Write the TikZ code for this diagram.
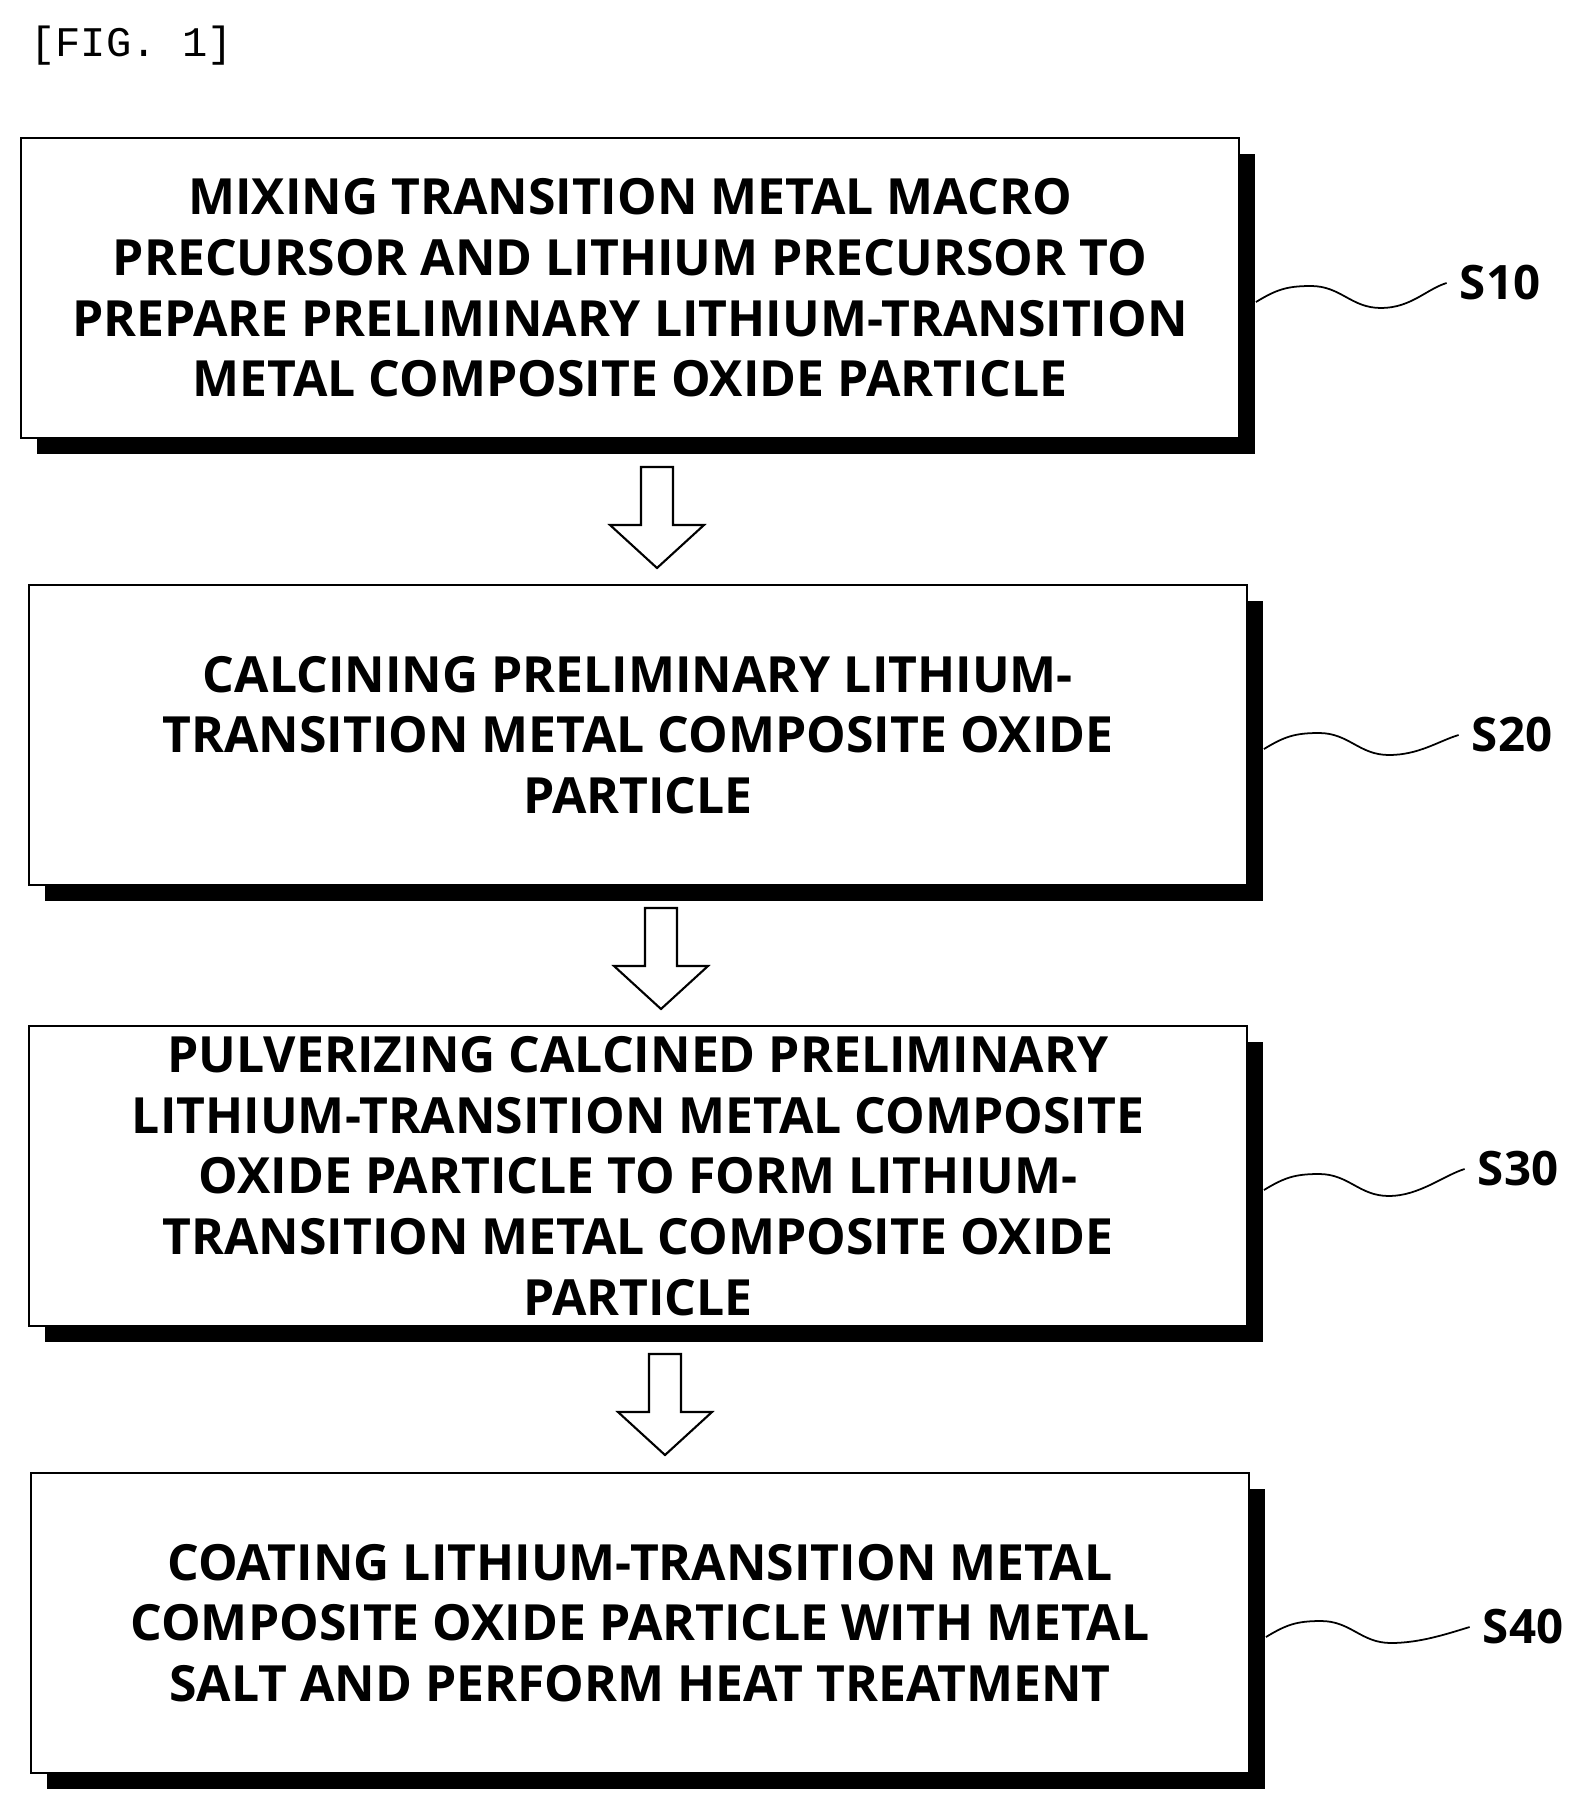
\documentclass[tikz,border=0pt]{standalone}
\usepackage{fontspec}
\setmainfont{Open Sans}
\setmonofont{Liberation Mono}
\usetikzlibrary{shadows}
\tikzset{
  stepbox/.style={draw, line width=1.2pt, fill=white, minimum width=24.36cm, minimum height=6cm,
    align=center, font=\bfseries\fontsize{28.4}{34.5}\selectfont, inner sep=0pt,
    drop shadow={shadow xshift=0.32cm, shadow yshift=-0.32cm, fill=black, opacity=1}},
  steplabel/.style={font=\bfseries\fontsize{27}{32}\selectfont},
  flowarrow/.style={draw, line width=1.2pt, fill=white}
}
\begin{document}
\begin{tikzpicture}[x=0.02cm, y=-0.02cm]
    \useasboundingbox (0, 0) rectangle (1592, 1815);
    \node[anchor=north west, font=\ttfamily\fontsize{24}{24}\selectfont] (fig) at (24, 20) {[FIG. 1]};

    % process steps
    \node[stepbox] (s10) at (630, 288) {MIXING TRANSITION METAL MACRO\\PRECURSOR AND LITHIUM PRECURSOR TO\\PREPARE PRELIMINARY LITHIUM-TRANSITION\\METAL COMPOSITE OXIDE PARTICLE};
    \node[stepbox] (s20) at (638, 735) {CALCINING PRELIMINARY LITHIUM-\\TRANSITION METAL COMPOSITE OXIDE\\PARTICLE};
    \node[stepbox] (s30) at (638, 1176) {PULVERIZING CALCINED PRELIMINARY\\LITHIUM-TRANSITION METAL COMPOSITE\\OXIDE PARTICLE TO FORM LITHIUM-\\TRANSITION METAL COMPOSITE OXIDE\\PARTICLE};
    \node[stepbox] (s40) at (640, 1623) {COATING LITHIUM-TRANSITION METAL\\COMPOSITE OXIDE PARTICLE WITH METAL\\SALT AND PERFORM HEAT TREATMENT};

    % hollow arrows
    \foreach \y/\cx in {467/657, 908/661, 1354/665} {
      \draw[flowarrow] (\cx-16, \y) -- (\cx+16, \y) -- (\cx+16, \y+58) -- (\cx+47, \y+58)
        -- (\cx, \y+101) -- (\cx-47, \y+58) -- (\cx-16, \y+58) -- cycle;
    }

    % step labels
    \node[steplabel] (l10) at (1500, 283) {S10};
    \node[steplabel] (l20) at (1512, 735) {S20};
    \node[steplabel] (l30) at (1518, 1169) {S30};
    \node[steplabel] (l40) at (1523, 1627) {S40};
    \foreach \s in {10, 20, 30, 40} {
      \draw[line width=1pt] ([xshift=0.32cm, yshift=-0.28cm]s\s.east) coordinate (w\s)
        .. controls +(20,-12) and +(-25,0) .. ++(55,-16)
        .. controls +(30,0) and +(-30,0) .. ++(70,22)
        .. controls +(30,0) and +(-20,6) .. ([xshift=-4pt]l\s.west);
    }
\end{tikzpicture}
\end{document}
